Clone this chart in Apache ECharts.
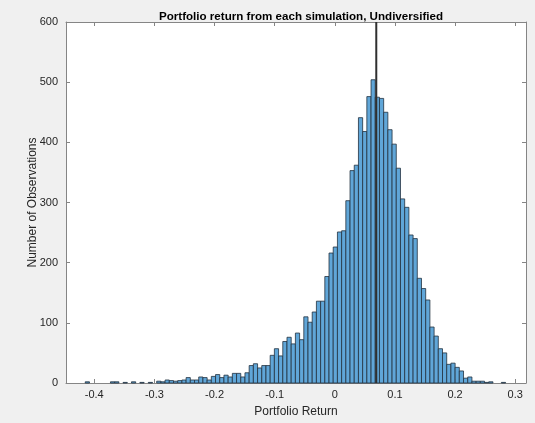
<!DOCTYPE html>
<html>
<head>
<meta charset="utf-8">
<script src="https://cdn.jsdelivr.net/npm/echarts@6/dist/echarts.min.js"></script>
<style>
  html, body { margin: 0; padding: 0; background: #f0f0f0; }
  #chart { width: 535px; height: 423px; }
</style>
</head>
<body>
<div id="chart"></div>
<script>
// Histogram of simulated portfolio returns: 100 equal-width bins
const binStart = -0.415;
const binWidth = 0.00699;
const binCounts = [
  2, 0, 0, 0, 0, 0, 2, 2, 0, 1,
  0, 2, 0, 1, 0, 1, 0, 3, 2, 5,
  4, 3, 4, 5, 9, 5, 5, 10, 9, 5,
  11, 14, 9, 13, 10, 16, 16, 10, 17, 29,
  32, 25, 29, 29, 46, 57, 45, 69, 76, 65,
  83, 72, 110, 101, 118, 136, 136, 177, 216, 226,
  251, 253, 303, 353, 362, 441, 418, 476, 504, 475,
  473, 450, 421, 397, 357, 306, 292, 246, 240, 174,
  157, 138, 93, 78, 57, 50, 31, 33, 26, 20,
  8, 10, 3, 3, 3, 1, 2, 0, 0, 1
];
const meanReturn = 0.069;
const xTicks = [-0.4, -0.3, -0.2, -0.1, 0, 0.1, 0.2, 0.3];
const yTicks = [0, 100, 200, 300, 400, 500, 600];

const histData = binCounts.map((c, i) => [binStart + i * binWidth, binStart + (i + 1) * binWidth, c]);

const axisColor = '#858585';
const textColor = '#262626';
const font = 'Liberation Sans, Arial, Helvetica, sans-serif';

const chart = echarts.init(document.getElementById('chart'));
const xBase = {
  type: 'value', min: -0.447, max: 0.318,
  axisLine: { show: true, onZero: false, lineStyle: { color: axisColor, width: 1 } },
  axisTick: { show: true, inside: true, length: 4, customValues: xTicks, lineStyle: { color: axisColor } },
  splitLine: { show: false }
};
const yBase = {
  type: 'value', min: 0, max: 600, interval: 100,
  axisLine: { show: true, onZero: false, lineStyle: { color: axisColor, width: 1 } },
  axisTick: { show: true, inside: true, length: 4, customValues: yTicks, lineStyle: { color: axisColor } },
  splitLine: { show: false }
};

chart.setOption({
  backgroundColor: '#f0f0f0',
  animation: false,
  title: {
    text: 'Portfolio return from each simulation, Undiversified',
    left: 296, top: 6, textAlign: 'center',
    textStyle: { fontFamily: font, fontWeight: 'bold', fontSize: 11.6, color: '#000' }
  },
  grid: { left: 66, right: 9, top: 22, bottom: 36, show: true, backgroundColor: '#ffffff', borderWidth: 0 },
  xAxis: [
    Object.assign({}, xBase, {
      position: 'bottom',
      name: 'Portfolio Return', nameLocation: 'middle', nameGap: 23, nameMoveOverlap: false,
      nameTextStyle: { fontFamily: font, fontSize: 12, color: textColor },
      axisLabel: {
        show: true, customValues: xTicks, margin: 6,
        fontFamily: font, fontSize: 11, color: textColor,
        formatter: v => String(Math.round(v * 10) / 10)
      }
    }),
    Object.assign({}, xBase, { position: 'top', axisLabel: { show: false } })
  ],
  yAxis: [
    Object.assign({}, yBase, {
      position: 'left',
      name: 'Number of Observations', nameLocation: 'middle', nameGap: 27, nameMoveOverlap: false,
      nameTextStyle: { fontFamily: font, fontSize: 12, color: textColor },
      axisLabel: { show: true, margin: 8, fontFamily: font, fontSize: 11, color: textColor }
    }),
    Object.assign({}, yBase, { position: 'right', axisLabel: { show: false } })
  ],
  series: [
    {
      type: 'custom',
      xAxisIndex: 0, yAxisIndex: 0,
      encode: { x: [0, 1], y: 2 },
      data: histData,
      renderItem: function (params, api) {
        const x0 = api.value(0), x1 = api.value(1), c = api.value(2);
        if (c <= 0) return null;
        const p0 = api.coord([x0, c]);
        const p1 = api.coord([x1, 0]);
        return {
          type: 'rect',
          shape: { x: p0[0], y: p0[1], width: p1[0] - p0[0], height: p1[1] - p0[1] },
          style: { fill: '#60a6d8', stroke: '#22313f', lineWidth: 0.8 }
        };
      }
    },
    {
      type: 'line',
      xAxisIndex: 0, yAxisIndex: 0,
      data: [[meanReturn, 0], [meanReturn, 600]],
      symbol: 'none',
      lineStyle: { color: '#303030', width: 2 },
      z: 5
    }
  ]
});
</script>
</body>
</html>
